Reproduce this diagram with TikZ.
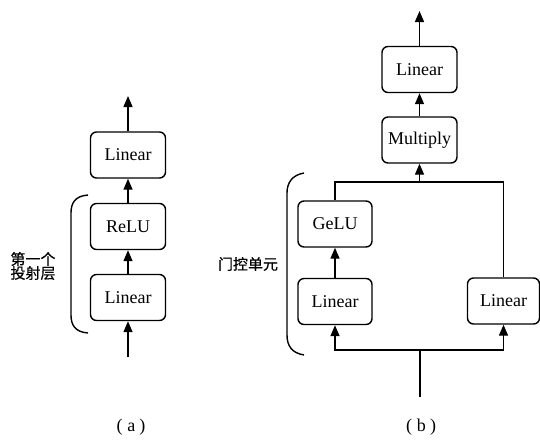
\documentclass[tikz,border=0pt]{standalone}
\usepackage{fontspec}
\setmainfont{Liberation Serif}
\newfontfamily\cjk{Noto Sans CJK SC}
\newfontfamily\cjkm{Noto Sans CJK SC}[FakeBold=0.5]
\usetikzlibrary{arrows.meta}
\usetikzlibrary{calc}

\tikzset{
	blk/.style={draw, line width=1.4pt, rounded corners=6pt, minimum height=46pt,
		minimum width=75pt, inner sep=1pt, font=\fontsize{18}{20}\selectfont},
	arr/.style={line width=1.4pt, -{Triangle[width=9pt,length=11pt]}},
	ln/.style={line width=1.4pt},
	brc/.style={line width=1.4pt},
	lbl/.style={font=\cjkm\fontsize{15}{17}\selectfont, align=center},
	captxt/.style={font=\fontsize{18}{20}\selectfont, inner sep=1pt}
}

\begin{document}
\begin{tikzpicture}[x=1pt, y=-1pt]
	\useasboundingbox (0,0) rectangle (540,440);

	% (a)
	\node[blk] (la1) at (128,297.5) {Linear};
	\node[blk] (relu) at (128,226.5) {ReLU};
	\node[blk] (la2) at (128,155) {Linear};
	\coordinate (ina) at (128,357);
	\coordinate (outa) at (128,96);
	\draw[arr] (ina) -- (la1);
	\draw[arr] (la1) -- (relu);
	\draw[arr] (relu) -- (la2);
	\draw[arr] (la2) -- (outa);
	\draw[brc] (88,195) .. controls (75,196) and (71,203) .. (71,213) -- (71,315)
		.. controls (71,325) and (75,332) .. (88,333);
	\node[lbl] (pa) at (33,266) {第一个\\[-3pt]投射层};
	\node[captxt] (capa) at (131,427) {(\hspace{5pt}a\hspace{4pt})};

	% (b)
	\node[blk, minimum width=74pt] (lb1) at (335,301.5) {Linear};
	\node[blk, minimum width=72pt] (lb2) at (503.5,301) {Linear};
	\node[blk, minimum width=74pt] (gelu) at (335,224) {GeLU};
	\node[blk] (mul) at (419.5,140) {Multiply};
	\node[blk] (lb4) at (419.5,69.5) {Linear};
	\coordinate (inb) at (420,397);
	\coordinate (spl) at (420,350);
	\coordinate (mrg) at (419.5,182);
	\coordinate (outb) at (419.5,11);
	\draw[ln] (inb) -- (spl);
	\draw[arr] (spl) -| (lb1.south);
	\draw[arr] (spl) -| (lb2.south);
	\draw[arr] (lb1) -- (gelu);
	\draw[ln] (gelu.north) |- (mrg) -| (lb2.north);
	\draw[arr] (mrg) -- (mul);
	\draw[arr] (mul) -- (lb4);
	\draw[arr] (lb4) -- (outb);
	\draw[brc] (304,173) .. controls (292,175) and (287,183) .. (287,193) -- (287,335)
		.. controls (287,346) and (292,353) .. (304,355);
	\node[lbl] (pb) at (248,264) {门控单元};
	\node[captxt] (capb) at (421,427) {(\hspace{5pt}b\hspace{4pt})};
\end{tikzpicture}
\end{document}
